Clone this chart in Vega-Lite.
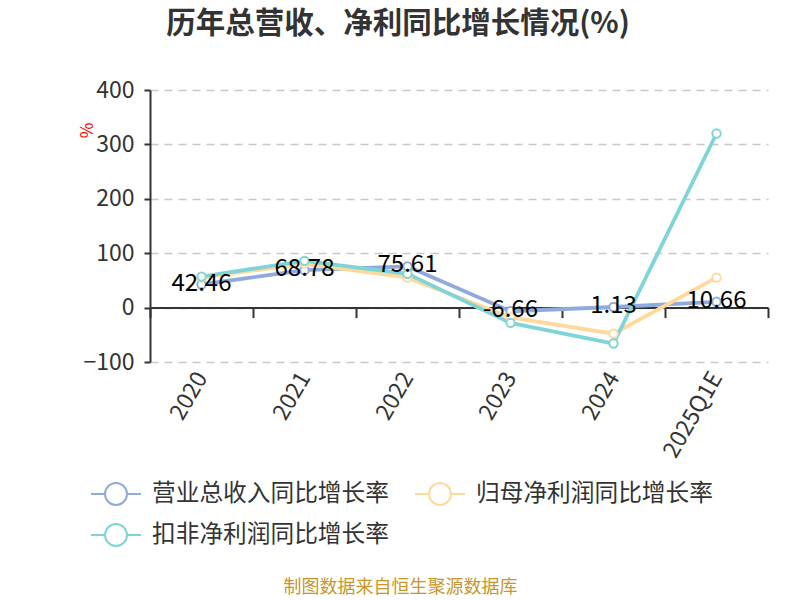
{
  "$schema": "https://vega.github.io/schema/vega-lite/v6.json",
  "width": 618,
  "height": 272,
  "autosize": {"type": "none"},
  "padding": {"left": 150, "top": 90, "right": 32, "bottom": 238},
  "background": "white",
  "config": {"view": {"stroke": null}},
  "title": {
    "text": "历年总营收、净利同比增长情况(%)",
    "font": "Noto Sans CJK SC",
    "fontSize": 29.5,
    "fontWeight": "bold",
    "color": "#333333",
    "anchor": "middle",
    "frame": "group",
    "dx": -61,
    "offset": 40
  },
  "data": {
    "values": [
      {"year": "2020", "series": "营业总收入同比增长率", "value": 42.46, "label": "42.46"},
      {"year": "2021", "series": "营业总收入同比增长率", "value": 68.78, "label": "68.78"},
      {"year": "2022", "series": "营业总收入同比增长率", "value": 75.61, "label": "75.61"},
      {"year": "2023", "series": "营业总收入同比增长率", "value": -6.66, "label": "-6.66"},
      {"year": "2024", "series": "营业总收入同比增长率", "value": 1.13, "label": "1.13"},
      {"year": "2025Q1E", "series": "营业总收入同比增长率", "value": 10.66, "label": "10.66"},
      {"year": "2020", "series": "归母净利润同比增长率", "value": 55, "label": ""},
      {"year": "2021", "series": "归母净利润同比增长率", "value": 81, "label": ""},
      {"year": "2022", "series": "归母净利润同比增长率", "value": 55, "label": ""},
      {"year": "2023", "series": "归母净利润同比增长率", "value": -18, "label": ""},
      {"year": "2024", "series": "归母净利润同比增长率", "value": -48, "label": ""},
      {"year": "2025Q1E", "series": "归母净利润同比增长率", "value": 55, "label": ""},
      {"year": "2020", "series": "扣非净利润同比增长率", "value": 57, "label": ""},
      {"year": "2021", "series": "扣非净利润同比增长率", "value": 86, "label": ""},
      {"year": "2022", "series": "扣非净利润同比增长率", "value": 62, "label": ""},
      {"year": "2023", "series": "扣非净利润同比增长率", "value": -28, "label": ""},
      {"year": "2024", "series": "扣非净利润同比增长率", "value": -66, "label": ""},
      {"year": "2025Q1E", "series": "扣非净利润同比增长率", "value": 320, "label": ""}
    ]
  },
  "encoding": {
    "x": {
      "field": "year",
      "type": "nominal",
      "sort": null,
      "bandPosition": 0.5,
      "scale": {"type": "band", "paddingInner": 0, "paddingOuter": 0},
      "axis": {
        "title": "制图数据来自恒生聚源数据库",
        "titleFont": "Noto Sans CJK SC",
        "titleFontSize": 18,
        "titleFontWeight": "normal",
        "titleColor": "#C8962A",
        "titleX": 250,
        "titleY": 280,
        "titleAlign": "center",
        "titleBaseline": "middle",
        "offset": -54.4,
        "tickBand": "extent",
        "domainColor": "#333333",
        "domainWidth": 2,
        "tickColor": "#333333",
        "tickWidth": 2,
        "tickSize": 10,
        "labelAngle": -60,
        "labelAlign": "right",
        "labelBaseline": "middle",
        "labelPadding": 56,
        "labelFont": "Noto Sans CJK SC",
        "labelFontSize": 23,
        "labelColor": "#333333",
        "grid": false
      }
    },
    "y": {
      "field": "value",
      "type": "quantitative",
      "scale": {"domain": [-100, 400], "nice": false},
      "axis": {
        "values": [-100, 0, 100, 200, 300, 400],
        "title": "%",
        "titleColor": "#FF0000",
        "titleFont": "Noto Sans CJK SC",
        "titleFontSize": 17,
        "titleFontWeight": "normal",
        "titleAngle": -90,
        "titleX": -63,
        "titleY": 40,
        "titleAlign": "center",
        "titleBaseline": "middle",
        "domainColor": "#333333",
        "domainWidth": 2,
        "tickColor": "#333333",
        "tickWidth": 2,
        "tickSize": 6,
        "labelFont": "Noto Sans CJK SC",
        "labelFontSize": 23,
        "labelColor": "#333333",
        "labelPadding": 10,
        "grid": true,
        "gridColor": "#C8C8C8",
        "gridDash": [8, 6],
        "gridWidth": 1.5
      }
    },
    "color": {
      "field": "series",
      "type": "nominal",
      "sort": null,
      "scale": {
        "domain": ["营业总收入同比增长率", "扣非净利润同比增长率", "归母净利润同比增长率"],
        "range": ["#8FAADC", "#7FD4D8", "#FFD99B"]
      },
      "legend": {
        "title": null,
        "orient": "none",
        "legendX": -60,
        "legendY": 378,
        "columns": 2,
        "columnPadding": 22,
        "rowPadding": -6,
        "symbolType": "M-1,0L-0.44,0M0.44,0L1,0M0.44,0A0.44,0.44,0,1,1,-0.44,0A0.44,0.44,0,1,1,0.44,0",
        "symbolSize": 2500,
        "symbolStrokeWidth": 2,
        "symbolFillColor": "white",
        "labelFont": "Noto Sans CJK SC",
        "labelFontSize": 23.7,
        "labelColor": "#333333",
        "labelOffset": 10,
        "labelLimit": 400
      }
    }
  },
  "layer": [
    {
      "mark": {"type": "line", "strokeWidth": 3.8}
    },
    {
      "mark": {"type": "point", "shape": "circle", "filled": true, "fill": "white", "size": 70, "strokeWidth": 2, "opacity": 1},
      "encoding": {
        "stroke": {"field": "series", "type": "nominal", "legend": null,
          "scale": {
            "domain": ["营业总收入同比增长率", "扣非净利润同比增长率", "归母净利润同比增长率"],
            "range": ["#8FAADC", "#7FD4D8", "#FFD99B"]
          }
        },
        "color": {"value": "white"}
      }
    },
    {
      "transform": [{"filter": "datum.label != ''"}],
      "mark": {"type": "text", "font": "Noto Sans CJK SC", "fontSize": 24, "color": "#000000", "align": "center", "baseline": "middle", "dy": -1},
      "encoding": {
        "text": {"field": "label"},
        "color": {"value": "#000000"}
      }
    }
  ]
}
